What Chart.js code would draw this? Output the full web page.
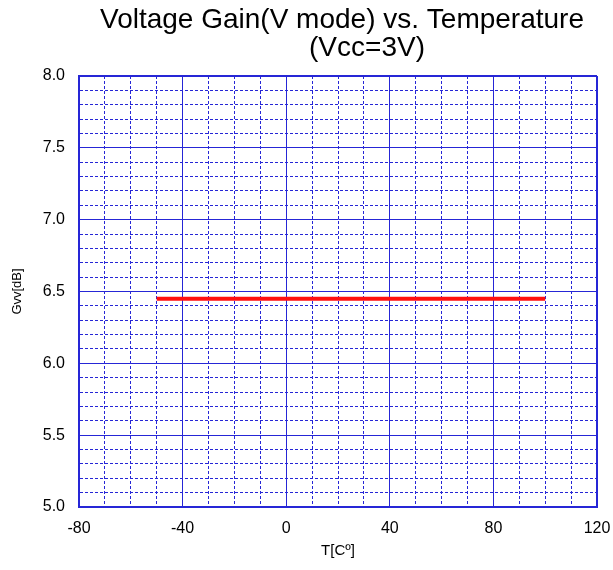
<!DOCTYPE html>
<html>
<head>
<meta charset="utf-8">
<script src="https://cdn.jsdelivr.net/npm/chart.js@4"></script>
<style>
    html, body { margin: 0; padding: 0; background: #fff; }
    #wrap { width: 613px; height: 570px; }
</style>
</head>
<body>
<div id="wrap"><canvas id="gain-chart" width="613" height="570"></canvas></div>
<script>
const titleLines  = ['Voltage Gain(V mode) vs. Temperature', '(Vcc=3V)'];
const xTitle      = 'T[Cº]';
const yTitle      = 'Gvv[dB]';

const temps       = [-50, -25, 0, 25, 50, 75, 100];
const gainValues  = [6.45, 6.45, 6.45, 6.45, 6.45, 6.45, 6.45];

const xMin = -80, xMax = 120, xMajor = 40, xMinor = 10;
const yMin = 5.0, yMax = 8.0, yMajor = 0.5, yMinor = 0.1;

const gridBlue = '#2626d6';
const FONT = "'Liberation Sans', Arial, sans-serif";

function isMajorX(v) { return Math.abs(v / xMajor - Math.round(v / xMajor)) < 1e-6; }
function isMajorY(v) { return Math.abs(v / yMajor - Math.round(v / yMajor)) < 1e-6; }

// two-line title, each line centred on its own
const titlePlugin = {
    id: 'twoLineTitle',
    afterDraw(chart) {
        const c = chart.ctx;
        c.save();
        c.fillStyle = '#000';
        c.font = `28px ${FONT}`;
        c.textAlign = 'center';
        c.textBaseline = 'alphabetic';
        c.fillText(titleLines[0], 342, 28);
        c.fillText(titleLines[1], 367, 56);
        c.restore();
    }
};

const ctx = document.getElementById('gain-chart').getContext('2d');
new Chart(ctx, {
    type: 'scatter',
    data: {
        datasets: [{
            label: 'Gvv',
            data: temps.map((t, i) => ({ x: t, y: gainValues[i] })),
            showLine: true,
            borderColor: '#ff1010',
            borderWidth: 4,
            pointRadius: 0,
            tension: 0,
        }],
    },
    options: {
        responsive: false,
        animation: false,
        layout: { padding: { top: 76, right: 16, bottom: 0, left: 0 } },
        plugins: {
            legend: { display: false },
            tooltip: { enabled: false },
        },
        scales: {
            x: {
                type: 'linear',
                min: xMin,
                max: xMax,
                afterFit: s => {
                    s.height = 63;
                    s.paddingLeft = 0;
                    s.paddingRight = 0;
                },
                ticks: {
                    stepSize: xMinor,
                    autoSkip: false,
                    maxRotation: 0,
                    padding: 12,
                    color: '#000',
                    font: { family: FONT, size: 16 },
                    callback: v => isMajorX(v) ? String(v) : '',
                },
                grid: {
                    drawTicks: false,
                    color: gridBlue,
                    lineWidth: c => (c.tick && c.tick.value === xMax) ? 2 : 1,
                },
                border: {
                    color: gridBlue,
                    width: 2,
                    dash: c => (c.tick && !isMajorX(c.tick.value)) ? [3, 2] : [],
                },
                title: {
                    display: true,
                    text: xTitle,
                    color: '#000',
                    font: { family: FONT, size: 15 },
                    padding: { top: 10, bottom: 10 },
                },
            },
            y: {
                min: yMin,
                max: yMax,
                afterFit: s => {
                    s.width = 79;
                    s.paddingTop = 0;
                    s.paddingBottom = 0;
                },
                ticks: {
                    stepSize: yMinor,
                    autoSkip: false,
                    padding: 14,
                    color: '#000',
                    font: { family: FONT, size: 16 },
                    callback: v => isMajorY(v) ? v.toFixed(1) : '',
                },
                grid: {
                    drawTicks: false,
                    color: gridBlue,
                    lineWidth: c => (c.tick && Math.abs(c.tick.value - yMax) < 1e-6) ? 2 : 1,
                },
                border: {
                    color: gridBlue,
                    width: 2,
                    dash: c => (c.tick && !isMajorY(c.tick.value)) ? [3, 2] : [],
                },
                title: {
                    display: true,
                    text: yTitle,
                    color: '#000',
                    font: { family: FONT, size: 13 },
                    padding: { top: 10, bottom: 10 },
                },
            },
        },
    },
    plugins: [titlePlugin],
});
</script>
</body>
</html>
